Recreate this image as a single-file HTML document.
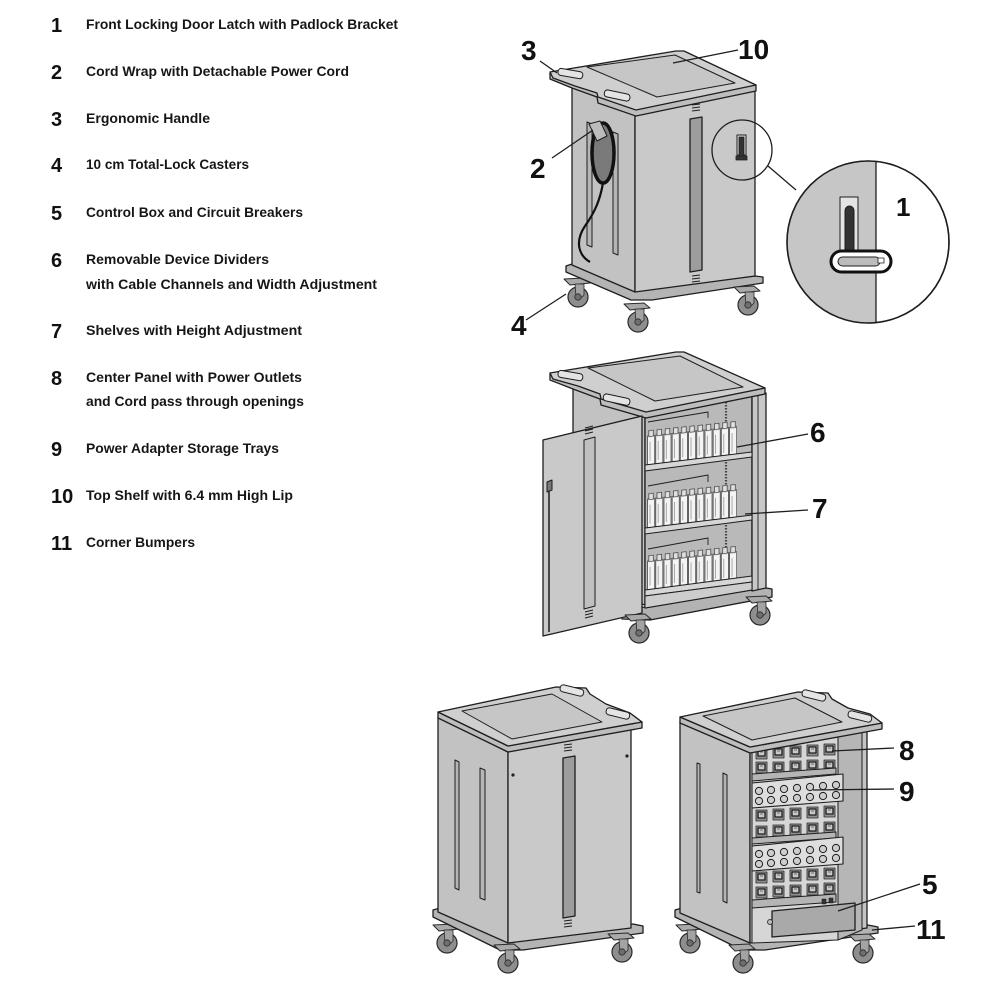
<!DOCTYPE html>
<html><head><meta charset="utf-8">
<style>
html,body{margin:0;padding:0;background:#fff;}
svg{display:block;}
.lt{font-family:"Liberation Sans",sans-serif;font-weight:bold;font-size:14px;fill:#161616;}
.ln{font-family:"Liberation Sans",sans-serif;font-weight:bold;font-size:20px;fill:#111;}
.cl{font-family:"Liberation Sans",sans-serif;font-weight:bold;font-size:28px;fill:#111;}
</style></head><body>
<svg width="1000" height="1000" viewBox="0 0 1000 1000" xmlns="http://www.w3.org/2000/svg">
<defs>
 <g id="caster">
  <polygon points="-14,-18 6,-19 12,-14 -8,-12" fill="#a9a9a9" stroke="#2a2a2a" stroke-width="1"/>
  <circle r="10" fill="#8e8e8e" stroke="#2a2a2a" stroke-width="1.2"/>
  <path d="M-3,-13 L6,-13 L6,-2 Q2,3 -2,0 Z" fill="#a3a3a3" stroke="#2a2a2a" stroke-width="0.8"/>
  <circle r="3.2" fill="#6e6e6e" stroke="#2a2a2a" stroke-width="0.8"/>
 </g>
 <pattern id="dev" patternUnits="userSpaceOnUse" width="8.2" height="36">
  <rect x="0.6" y="6" width="7" height="29" fill="#f4f4f4" stroke="#3a3a3a" stroke-width="0.7"/>
  <rect x="1.8" y="0.8" width="4.6" height="6" fill="#e0e0e0" stroke="#3a3a3a" stroke-width="0.7"/>
  <line x1="3" y1="12" x2="3" y2="31" stroke="#777" stroke-width="0.6"/>
 </pattern>
 <g id="ol">
  <rect x="0" y="0" width="11" height="11" fill="#8f8f8f" stroke="#2a2a2a" stroke-width="0.8"/>
  <rect x="2" y="2" width="7" height="6" fill="#c9c9c9"/>
  <line x1="4" y1="4" x2="7" y2="4" stroke="#555" stroke-width="0.8"/>
 </g>
 <clipPath id="bigc"><circle cx="868" cy="242" r="81"/></clipPath>
</defs>

<!-- ===== LEGEND LIST ===== -->
<g>
 <text class="ln" x="51" y="32">1</text>
 <text class="lt" x="86" y="29" textLength="312" lengthAdjust="spacingAndGlyphs">Front Locking Door Latch with Padlock Bracket</text>
 <text class="ln" x="51" y="79">2</text>
 <text class="lt" x="86" y="76" textLength="263" lengthAdjust="spacingAndGlyphs">Cord Wrap with Detachable Power Cord</text>
 <text class="ln" x="51" y="126">3</text>
 <text class="lt" x="86" y="123" textLength="124" lengthAdjust="spacingAndGlyphs">Ergonomic Handle</text>
 <text class="ln" x="51" y="172">4</text>
 <text class="lt" x="86" y="169" textLength="163" lengthAdjust="spacingAndGlyphs">10 cm Total-Lock Casters</text>
 <text class="ln" x="51" y="220">5</text>
 <text class="lt" x="86" y="217" textLength="217" lengthAdjust="spacingAndGlyphs">Control Box and Circuit Breakers</text>
 <text class="ln" x="51" y="267">6</text>
 <text class="lt" x="86" y="264" textLength="183" lengthAdjust="spacingAndGlyphs">Removable Device Dividers</text>
 <text class="lt" x="86" y="289" textLength="291" lengthAdjust="spacingAndGlyphs">with Cable Channels and Width Adjustment</text>
 <text class="ln" x="51" y="338">7</text>
 <text class="lt" x="86" y="335" textLength="216" lengthAdjust="spacingAndGlyphs">Shelves with Height Adjustment</text>
 <text class="ln" x="51" y="385">8</text>
 <text class="lt" x="86" y="382" textLength="216" lengthAdjust="spacingAndGlyphs">Center Panel with Power Outlets</text>
 <text class="lt" x="86" y="406" textLength="218" lengthAdjust="spacingAndGlyphs">and Cord pass through openings</text>
 <text class="ln" x="51" y="456">9</text>
 <text class="lt" x="86" y="453" textLength="193" lengthAdjust="spacingAndGlyphs">Power Adapter Storage Trays</text>
 <text class="ln" x="51" y="503">10</text>
 <text class="lt" x="86" y="500" textLength="207" lengthAdjust="spacingAndGlyphs">Top Shelf with 6.4 mm High Lip</text>
 <text class="ln" x="51" y="550">11</text>
 <text class="lt" x="86" y="547" textLength="109" lengthAdjust="spacingAndGlyphs">Corner Bumpers</text>
</g>

<!-- ===== CART 1 (top) ===== -->
<g stroke="#1e1e1e" stroke-width="1.3" stroke-linejoin="round">
 <use href="#caster" x="578" y="297"/>
 <polygon points="566,266 572,264 635,291 755,276 763,277 763,283 652,300 631,300 566,272" fill="#b4b4b4"/>
 <use href="#caster" x="748" y="305"/>
 <use href="#caster" x="638" y="322"/>
 <polygon points="572,86 635,114 635,292 572,265" fill="#c2c2c2"/>
 <polygon points="635,114 755,90 755,276 635,292" fill="#c9c9c9"/>
 <!-- left slots -->
 <polygon points="587,122 592,124 592,247 587,245" fill="#b5b5b5" stroke-width="1"/>
 <polygon points="613,132 618,134 618,255 613,253" fill="#b5b5b5" stroke-width="1"/>
 <!-- cord wrap -->
 <ellipse cx="603" cy="153" rx="11" ry="30" fill="#7a7a7a" stroke="#111" stroke-width="3.5"/>
 <polygon points="589,124 600,121 607,136 597,141" fill="#bcbcbc" stroke-width="1"/>
 <path d="M603,183 C600,200 595,212 585,226 C575,241 578,255 590,262" fill="none" stroke="#111" stroke-width="2.2"/>
 <!-- top shelf -->
 <polygon points="550,73 550,79 572,88 597,97 598,103 636,116 756,91 756,85" fill="#bdbdbd"/>
 <polygon points="550,72 676,51 684,51 756,85 636,110 598,97 597,93 575,86 553,78" fill="#cfcfcf"/>
 <polygon points="587,67 675,55 735,83 657,97" fill="#c6c6c6" stroke-width="1"/>
 <rect x="558" y="70" width="25" height="7" rx="3" fill="#e4e4e4" stroke-width="1" transform="rotate(10 570 73)"/>
 <rect x="604" y="92" width="26" height="7" rx="3" fill="#e4e4e4" stroke-width="1" transform="rotate(12 617 96)"/>
 <!-- front slot -->
 <polygon points="690,119 702,117 702,270 690,272" fill="#9d9d9d"/>
 <g stroke-width="1">
  <line x1="692" y1="105" x2="700" y2="104"/><line x1="692" y1="108" x2="700" y2="107"/><line x1="692" y1="111" x2="700" y2="110"/>
  <line x1="692" y1="276" x2="700" y2="275"/><line x1="692" y1="279" x2="700" y2="278"/><line x1="692" y1="282" x2="700" y2="281"/>
 </g>
 <!-- small magnifier -->
 <circle cx="742" cy="150" r="30" fill="none"/>
 <rect x="737" y="135" width="9" height="20" fill="#ddd" stroke-width="1"/>
 <rect x="739" y="137" width="5" height="22" fill="#333" stroke-width="0.8"/>
 <rect x="736" y="156" width="11" height="4" fill="#333" stroke-width="0.8"/>
 <line x1="768" y1="166" x2="796" y2="190"/>
 <!-- large magnifier -->
 <circle cx="868" cy="242" r="81" fill="#fff"/>
 <rect x="780" y="150" width="96" height="190" fill="#c6c6c6" stroke="none" clip-path="url(#bigc)"/>
 <line x1="876" y1="161" x2="876" y2="323"/>
 <circle cx="868" cy="242" r="81" fill="none" stroke-width="1.6"/>
 <rect x="840" y="197" width="18" height="60" fill="#e4e4e4" stroke-width="1"/>
 <rect x="845" y="206" width="9" height="48" rx="4.5" fill="#333" stroke-width="1"/>
 <rect x="831" y="251" width="60" height="21" rx="10.5" fill="#fff" stroke="#111" stroke-width="3"/>
 <rect x="838" y="257" width="42" height="9" rx="4.5" fill="#bbb" stroke-width="1"/>
 <rect x="878" y="258" width="6" height="5" fill="#fff" stroke-width="0.8"/>
 <!-- leaders -->
 <line x1="540" y1="61" x2="557" y2="73"/>
 <line x1="738" y1="50" x2="673" y2="63"/>
 <line x1="552" y1="158" x2="593" y2="130"/>
 <line x1="526" y1="320" x2="566" y2="294"/>
</g>
<text class="cl" x="521" y="60">3</text>
<text class="cl" x="738" y="59">10</text>
<text class="cl" x="530" y="178">2</text>
<text class="cl" x="511" y="335">4</text>
<text class="cl" x="896" y="216" style="font-size:26px">1</text>

<!-- ===== CART 2 (middle, open door) ===== -->
<g stroke="#1e1e1e" stroke-width="1.3" stroke-linejoin="round">
 <polygon points="620,611 645,607 760,587 772,589 772,597 650,620 622,619" fill="#b3b3b3"/>
 <use href="#caster" x="760" y="615"/>
 <polygon points="573,385 645,414 645,605 573,580" fill="#c2c2c2"/>
 <polygon points="645,416 752,396 752,590 645,608" fill="#b9b9b9"/>
 <polyline points="648,422 708,412 708,418" fill="none" stroke-width="0.9"/>
 <polyline points="648,486 708,475 708,482" fill="none" stroke-width="0.9"/>
 <polyline points="648,549 708,538 708,545" fill="none" stroke-width="0.9"/>
 <line x1="726" y1="402" x2="726" y2="590" stroke="#444" stroke-width="2.2" stroke-dasharray="1.5 1.5"/>
 <polygon points="752,396 766,393 766,588 752,591" fill="#c8c8c8"/>
 <line x1="758" y1="395" x2="758" y2="590" stroke-width="0.9"/>
 <!-- devices -->
 <g transform="translate(647,430) skewY(-6)"><rect width="90" height="36" fill="url(#dev)" stroke="none"/></g>
 <g transform="translate(647,493) skewY(-6)"><rect width="90" height="36" fill="url(#dev)" stroke="none"/></g>
 <g transform="translate(647,555) skewY(-6)"><rect width="90" height="36" fill="url(#dev)" stroke="none"/></g>
 <!-- shelves -->
 <polygon points="645,465 752,452 752,457 645,471" fill="#d6d6d6" stroke-width="1"/>
 <polygon points="645,528 752,515 752,520 645,534" fill="#d6d6d6" stroke-width="1"/>
 <polygon points="645,590 752,576 752,582 645,596" fill="#d6d6d6" stroke-width="1"/>
 <polygon points="645,596 752,582 752,590 645,608" fill="#cdcdcd" stroke-width="1"/>
 <!-- top shelf -->
 <polygon points="550,374 550,380 573,389 600,399 601,405 646,418 765,394 765,388" fill="#bdbdbd"/>
 <polygon points="550,373 676,352 684,352 765,388 646,412 601,399 600,394 578,386 553,379" fill="#cfcfcf"/>
 <polygon points="588,368 680,356 743,387 655,401" fill="#c6c6c6" stroke-width="1"/>
 <rect x="558" y="372" width="25" height="7" rx="3" fill="#e4e4e4" stroke-width="1" transform="rotate(10 570 375)"/>
 <rect x="603" y="396" width="27" height="7" rx="3" fill="#e4e4e4" stroke-width="1" transform="rotate(12 616 400)"/>
 <!-- door -->
 <polygon points="543,440 642,416 642,613 543,636" fill="#c9c9c9"/>
 <polygon points="584,440 595,437 595,606 584,609" fill="#c0c0c0" stroke-width="1"/>
 <g stroke-width="1">
  <line x1="585" y1="428" x2="593" y2="426"/><line x1="585" y1="431" x2="593" y2="429"/><line x1="585" y1="434" x2="593" y2="432"/>
  <line x1="585" y1="612" x2="593" y2="610"/><line x1="585" y1="615" x2="593" y2="613"/><line x1="585" y1="618" x2="593" y2="616"/>
 </g>
 <line x1="549" y1="488" x2="549" y2="632" stroke-width="1.5"/>
 <path d="M547,492 L547,482 L552,480 L552,490 Z" fill="#777" stroke-width="1"/>
 <use href="#caster" x="639" y="633"/>
 <!-- leaders -->
 <line x1="808" y1="434" x2="737" y2="447"/>
 <line x1="808" y1="510" x2="745" y2="514"/>
</g>
<text class="cl" x="810" y="442">6</text>
<text class="cl" x="812" y="518">7</text>

<!-- ===== CART 3 (bottom left, closed) ===== -->
<g stroke="#1e1e1e" stroke-width="1.3" stroke-linejoin="round">
 <use href="#caster" x="447" y="943"/>
 <polygon points="433,910 440,908 508,940 633,924 643,926 643,933 523,950 500,950 433,917" fill="#b4b4b4"/>
 <use href="#caster" x="622" y="952"/>
 <use href="#caster" x="508" y="963"/>
 <polygon points="438,717 508,752 508,943 438,912" fill="#c2c2c2"/>
 <polygon points="508,752 631,728 631,928 508,943" fill="#c9c9c9"/>
 <polygon points="455,760 459,762 459,890 455,888" fill="#b5b5b5" stroke-width="1"/>
 <polygon points="480,768 485,770 485,900 480,898" fill="#b5b5b5" stroke-width="1"/>
 <polygon points="563,758 575,756 575,916 563,918" fill="#9d9d9d"/>
 <g stroke-width="1">
  <line x1="564" y1="745" x2="572" y2="744"/><line x1="564" y1="748" x2="572" y2="747"/><line x1="564" y1="751" x2="572" y2="750"/>
  <line x1="564" y1="921" x2="572" y2="920"/><line x1="564" y1="924" x2="572" y2="923"/><line x1="564" y1="927" x2="572" y2="926"/>
 </g>
 <circle cx="513" cy="775" r="1.6" fill="#222" stroke="none"/>
 <circle cx="627" cy="756" r="1.6" fill="#222" stroke="none"/>
 <polygon points="438,712 508,746 642,722 642,728 508,752 438,718" fill="#bdbdbd"/>
 <polygon points="438,712 556,687 586,688 590,694 606,704 630,713 642,722 508,746" fill="#cfcfcf"/>
 <polygon points="462,711 552,694 602,722 512,739" fill="#c6c6c6" stroke-width="1"/>
 <rect x="560" y="687" width="24" height="7" rx="3" fill="#e4e4e4" stroke-width="1" transform="rotate(14 572 690)"/>
 <rect x="606" y="710" width="24" height="7" rx="3" fill="#e4e4e4" stroke-width="1" transform="rotate(14 618 713)"/>
</g>

<!-- ===== CART 4 (bottom right, rear open) ===== -->
<g stroke="#1e1e1e" stroke-width="1.3" stroke-linejoin="round">
 <use href="#caster" x="690" y="943"/>
 <polygon points="675,910 682,908 750,940 868,925 878,927 878,933 765,950 742,950 675,917" fill="#b4b4b4"/>
 <use href="#caster" x="863" y="953"/>
 <use href="#caster" x="743" y="963"/>
 <polygon points="680,722 750,752 750,943 680,913" fill="#c2c2c2"/>
 <polygon points="697,763 700,764 700,893 697,892" fill="#b5b5b5" stroke-width="1"/>
 <polygon points="723,773 727,775 727,903 723,901" fill="#b5b5b5" stroke-width="1"/>
 <polygon points="750,752 867,730 867,928 750,943" fill="#c4c4c4"/>
 <polygon points="838,737 862,732 862,930 838,940" fill="#b6b6b6" stroke-width="1"/>
 <polygon points="752,752 838,737 838,940 752,943" fill="#d6d6d6" stroke-width="1"/>
 <!-- outlets -->
 <use href="#ol" x="756" y="748"/><use href="#ol" x="773" y="747"/><use href="#ol" x="790" y="746"/><use href="#ol" x="807" y="745"/><use href="#ol" x="824" y="744"/>
 <use href="#ol" x="756" y="762"/><use href="#ol" x="773" y="762"/><use href="#ol" x="790" y="761"/><use href="#ol" x="807" y="760"/><use href="#ol" x="824" y="760"/>
 <polygon points="752,774 836,768 836,774 752,781" fill="#b5b5b5" stroke-width="1"/>
 <polygon points="752,783 843,774 843,801 752,808" fill="#dedede" stroke-width="1.1"/>
 <g fill="#cdcdcd" stroke-width="1">
  <circle cx="759" cy="791" r="3.6"/><circle cx="771" cy="790" r="3.6"/><circle cx="784" cy="789" r="3.6"/><circle cx="797" cy="788" r="3.6"/><circle cx="810" cy="787" r="3.6"/><circle cx="823" cy="786" r="3.6"/><circle cx="836" cy="785" r="3.6"/>
  <circle cx="759" cy="801" r="3.6"/><circle cx="771" cy="800" r="3.6"/><circle cx="784" cy="799" r="3.6"/><circle cx="797" cy="798" r="3.6"/><circle cx="810" cy="797" r="3.6"/><circle cx="823" cy="796" r="3.6"/><circle cx="836" cy="795" r="3.6"/>
 </g>
 <use href="#ol" x="756" y="810"/><use href="#ol" x="773" y="809"/><use href="#ol" x="790" y="808"/><use href="#ol" x="807" y="807"/><use href="#ol" x="824" y="806"/>
 <use href="#ol" x="756" y="826"/><use href="#ol" x="773" y="825"/><use href="#ol" x="790" y="824"/><use href="#ol" x="807" y="823"/><use href="#ol" x="824" y="822"/>
 <polygon points="752,838 836,832 836,838 752,844" fill="#b5b5b5" stroke-width="1"/>
 <polygon points="752,846 843,837 843,864 752,871" fill="#dedede" stroke-width="1.1"/>
 <g fill="#cdcdcd" stroke-width="1">
  <circle cx="759" cy="854" r="3.6"/><circle cx="771" cy="853" r="3.6"/><circle cx="784" cy="852" r="3.6"/><circle cx="797" cy="851" r="3.6"/><circle cx="810" cy="850" r="3.6"/><circle cx="823" cy="849" r="3.6"/><circle cx="836" cy="848" r="3.6"/>
  <circle cx="759" cy="864" r="3.6"/><circle cx="771" cy="863" r="3.6"/><circle cx="784" cy="862" r="3.6"/><circle cx="797" cy="861" r="3.6"/><circle cx="810" cy="860" r="3.6"/><circle cx="823" cy="859" r="3.6"/><circle cx="836" cy="858" r="3.6"/>
 </g>
 <use href="#ol" x="756" y="872"/><use href="#ol" x="773" y="871"/><use href="#ol" x="790" y="870"/><use href="#ol" x="807" y="869"/><use href="#ol" x="824" y="868"/>
 <use href="#ol" x="756" y="887"/><use href="#ol" x="773" y="886"/><use href="#ol" x="790" y="885"/><use href="#ol" x="807" y="884"/><use href="#ol" x="824" y="883"/>
 <polygon points="752,900 836,894 836,902 752,908" fill="#b5b5b5" stroke-width="1"/>
 <!-- control box -->
 <polygon points="772,911 855,903 855,930 772,937" fill="#a9a9a9"/>
 <circle cx="770" cy="922" r="2.5" fill="#bbb" stroke-width="0.8"/>
 <rect x="822" y="899" width="4" height="5" fill="#333" stroke-width="0.6"/>
 <rect x="829" y="898" width="4" height="5" fill="#333" stroke-width="0.6"/>
 <!-- top shelf -->
 <polygon points="680,717 750,747 882,723 882,729 750,753 680,723" fill="#bdbdbd"/>
 <polygon points="680,717 798,692 828,693 832,699 848,708 870,714 882,723 750,747" fill="#cfcfcf"/>
 <polygon points="703,716 795,698 842,722 752,740" fill="#c6c6c6" stroke-width="1"/>
 <rect x="802" y="692" width="24" height="7" rx="3" fill="#e4e4e4" stroke-width="1" transform="rotate(14 814 695)"/>
 <rect x="848" y="713" width="24" height="7" rx="3" fill="#e4e4e4" stroke-width="1" transform="rotate(14 860 716)"/>
 <!-- leaders -->
 <line x1="894" y1="748" x2="832" y2="751"/>
 <line x1="894" y1="789" x2="813" y2="790"/>
 <line x1="920" y1="884" x2="838" y2="911"/>
 <line x1="915" y1="926" x2="872" y2="930"/>
</g>
<text class="cl" x="899" y="760">8</text>
<text class="cl" x="899" y="801">9</text>
<text class="cl" x="922" y="894">5</text>
<text class="cl" x="916" y="939">11</text>
</svg>
</body></html>
